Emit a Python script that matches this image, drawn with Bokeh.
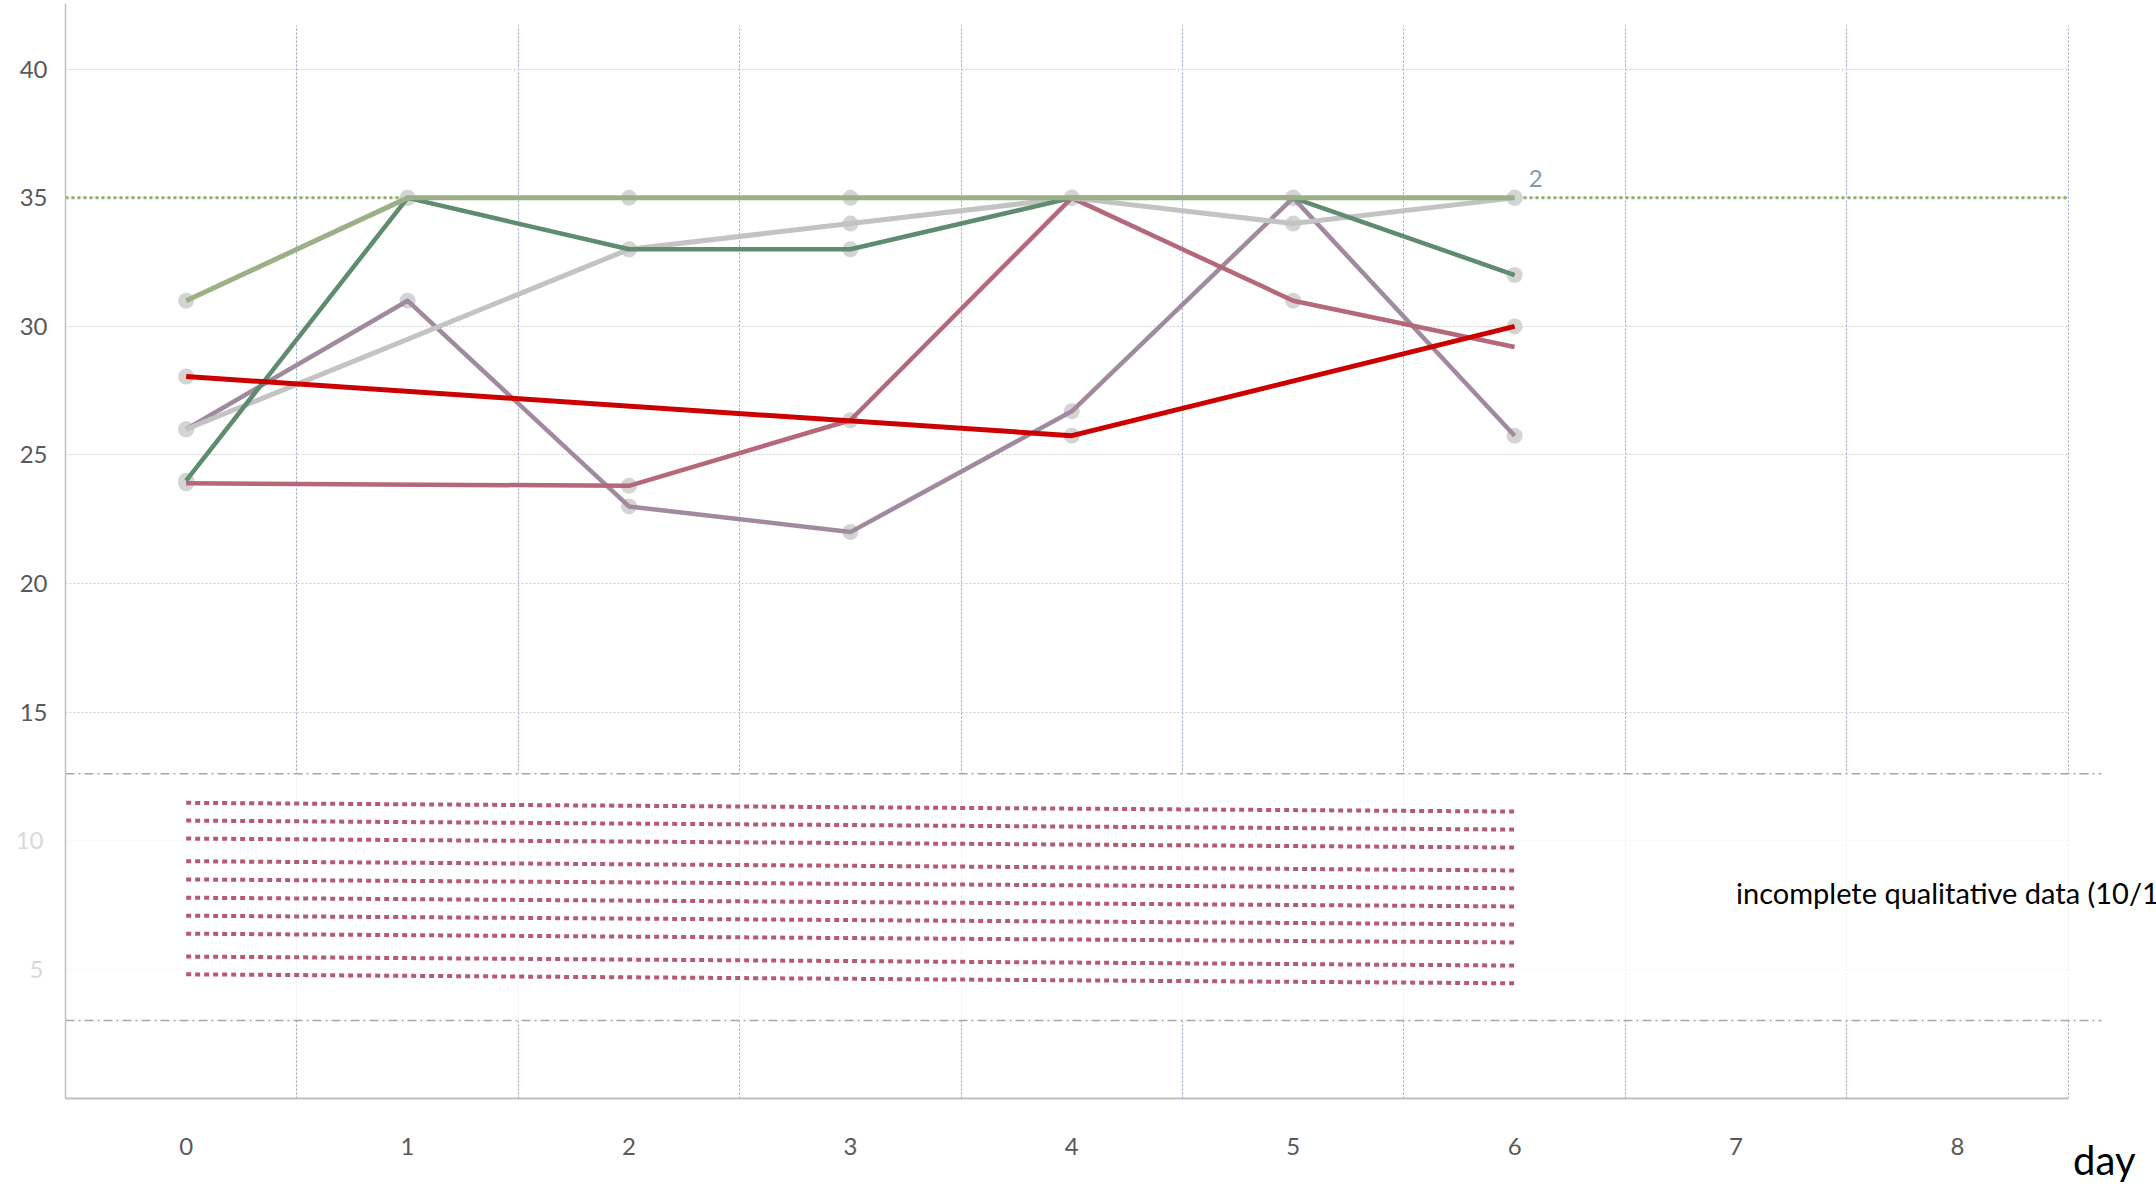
from bokeh.plotting import figure
from bokeh.models import FixedTicker, LinearAxis, Range1d, Title
from bokeh.embed import file_html
from bokeh.resources import INLINE
from bokeh.core.properties import value

# ---------------- data ----------------
days = [0, 1, 2, 3, 4, 5, 6]
x_ticks = [0, 1, 2, 3, 4, 5, 6, 7, 8]
x_tick_labels = ["0", "1", "2", "3", "4", "5", "6", "7", "8"]
y_ticks_main = [15, 20, 25, 30, 35, 40]
y_ticks_band = [5, 10]

light_green = [31, 35, 35, 35, 35, 35, 35]
dark_green = [24, 35, 33, 33, 35, 35, 32]
gray_days = [0, 2, 3, 4, 5, 6]
gray_vals = [26, 33, 34, 35, 34, 35]
purple_vals = [26, 31, 23, 22, 26.7, 35, 25.75]
rose_days = [0, 2, 3, 4, 5, 6]
rose_vals = [23.9, 23.8, 26.35, 35, 31, 29.2]
red_days = [0, 4, 6]
red_vals = [28.05, 25.75, 30]

reference_level = 35
end_label = "2"

# qualitative rows (dotted) in the lower band: value at day 0 and at day 6
qual_start = [11.47, 10.78, 10.08, 9.20, 8.49, 7.78, 7.08, 6.38, 5.49, 4.80]
qual_end = [11.13, 10.43, 9.73, 8.84, 8.15, 7.44, 6.74, 6.04, 5.14, 4.45]
qual_days = [0, 6]
band_low, band_high = 3.0, 12.6
band_note = "incomplete qualitative data (10/10)"
x_title = "day"

FONT = "Lato"
TICK_COLOR = "#595959"

x_start, x_end = -0.545, 8.899
plot_end = 8.5          # right end of the drawn chart area
band_end = 8.65
y_start, y_end = -0.03, 42.56

p = figure(width=2156, height=1189, output_backend="svg", toolbar_location=None,
           title=None,
           x_range=Range1d(x_start, x_end), y_range=Range1d(y_start, y_end),
           min_border_left=65, min_border_right=0, min_border_top=3,
           min_border_bottom=91)
p.outline_line_color = None
p.background_fill_color = "white"
p.border_fill_color = "white"

# axes
xax = p.xaxis[0]
yax = p.yaxis[0]
xax.ticker = FixedTicker(ticks=x_ticks)
xax.major_label_overrides = {t: l for t, l in zip(x_ticks, x_tick_labels)}
xax.bounds = (x_start, plot_end)
yax.ticker = FixedTicker(ticks=y_ticks_main)
for ax in (xax, yax):
    ax.major_tick_line_color = None
    ax.major_tick_out = 0
    ax.major_tick_in = 0
    ax.minor_tick_line_color = None
    ax.minor_tick_out = 0
    ax.axis_line_color = "#BFBFBF"
    ax.major_label_text_color = TICK_COLOR
    ax.major_label_text_font = FONT
    ax.major_label_text_font_size = "24px"
xax.axis_line_width = 2
yax.axis_line_width = 1.5
xax.major_label_standoff = 39
yax.major_label_standoff = 18

# faint labels of the lower band (second left axis, pulled onto the first)
yax2 = LinearAxis(ticker=FixedTicker(ticks=y_ticks_band), axis_line_color=None,
                  major_tick_line_color=None, major_tick_out=0, major_tick_in=0,
                  minor_tick_line_color=None, minor_tick_out=0,
                  major_label_standoff=-27, major_label_text_color="#D9D9D9",
                  major_label_text_font=FONT, major_label_text_font_size="24px")
p.add_layout(yax2, "left")

# axis title at the right end, below the axis
p.add_layout(Title(text=x_title, align="right", offset=21, vertical_align="top",
                   standoff=-44, text_font=FONT, text_font_size="40px",
                   text_color="black", text_font_style="normal"), "below")

# grids
p.xgrid.ticker = FixedTicker(ticks=[t + 0.5 for t in x_ticks])
p.xgrid.grid_line_color = "#8EA0BF"
p.xgrid.grid_line_dash = "2 2"
p.xgrid.grid_line_width = 1
p.ygrid.ticker = FixedTicker(ticks=y_ticks_band + y_ticks_main)
p.ygrid.grid_line_color = "#CFCFCF"
p.ygrid.grid_line_dash = "2 2"
p.ygrid.grid_line_width = 1
try:
    p.ygrid.cross_bounds = (x_start, plot_end)
    p.xgrid.cross_bounds = (y_start, 41.7)
except Exception:
    pass

# reference level line
p.segment(x0=[x_start], y0=[reference_level], x1=[plot_end], y1=[reference_level],
          line_color="#8FAE6E", line_width=3, line_dash="3 3")

# faded lower band
p.quad(left=[x_start], right=[band_end], bottom=[band_low], top=[band_high],
       fill_color="white", fill_alpha=0.8, line_color=None)
p.segment(x0=[x_start, x_start], y0=[band_low, band_high], x1=[band_end, band_end],
          y1=[band_low, band_high], line_color="#A6A6A6", line_width=1.5,
          line_dash="9 4 2 4")

p.multi_line(xs=[qual_days for _ in qual_start],
             ys=[[a, b] for a, b in zip(qual_start, qual_end)],
             line_color="#B65A70", line_width=4, line_dash="5 4")

# markers (behind the lines)
mx, my = [], []
for xs, ys, skip_last in [(days, light_green, False), (days, dark_green, False),
                          (gray_days, gray_vals, False), (days, purple_vals, False),
                          (rose_days, rose_vals, True), (red_days, red_vals, False)]:
    n = len(xs) - 1 if skip_last else len(xs)
    mx += list(xs[:n])
    my += list(ys[:n])
p.scatter(mx, my, size=16, fill_color="#D4D4D4", line_color=None)

# series lines
common = dict(line_join="round", line_cap="butt")
p.line(days, purple_vals, line_color="#A18AA0", line_width=4.5, **common)
p.line(rose_days, rose_vals, line_color="#B4687A", line_width=4.5, **common)
p.line(gray_days, gray_vals, line_color="#C3C3C3", line_width=5, **common)
p.line(days, dark_green, line_color="#5F8B6E", line_width=4.5, **common)
p.line(red_days, red_vals, line_color="#CC0000", line_width=5, **common)
p.line(days, light_green, line_color="#9CB088", line_width=5, **common)

p.text(x=[days[-1]], y=[light_green[-1]], text=[end_label], text_font=value(FONT),
       text_font_size="24px", text_color="#8497B0", x_offset=14, y_offset=-19,
       text_baseline="middle", text_align="left")

p.text(x=[7], y=[8], text=[band_note], text_font=value(FONT), text_font_size="29px",
       text_color="black", text_baseline="middle", text_align="left")

open("out.html", "w").write(file_html(p, INLINE))
